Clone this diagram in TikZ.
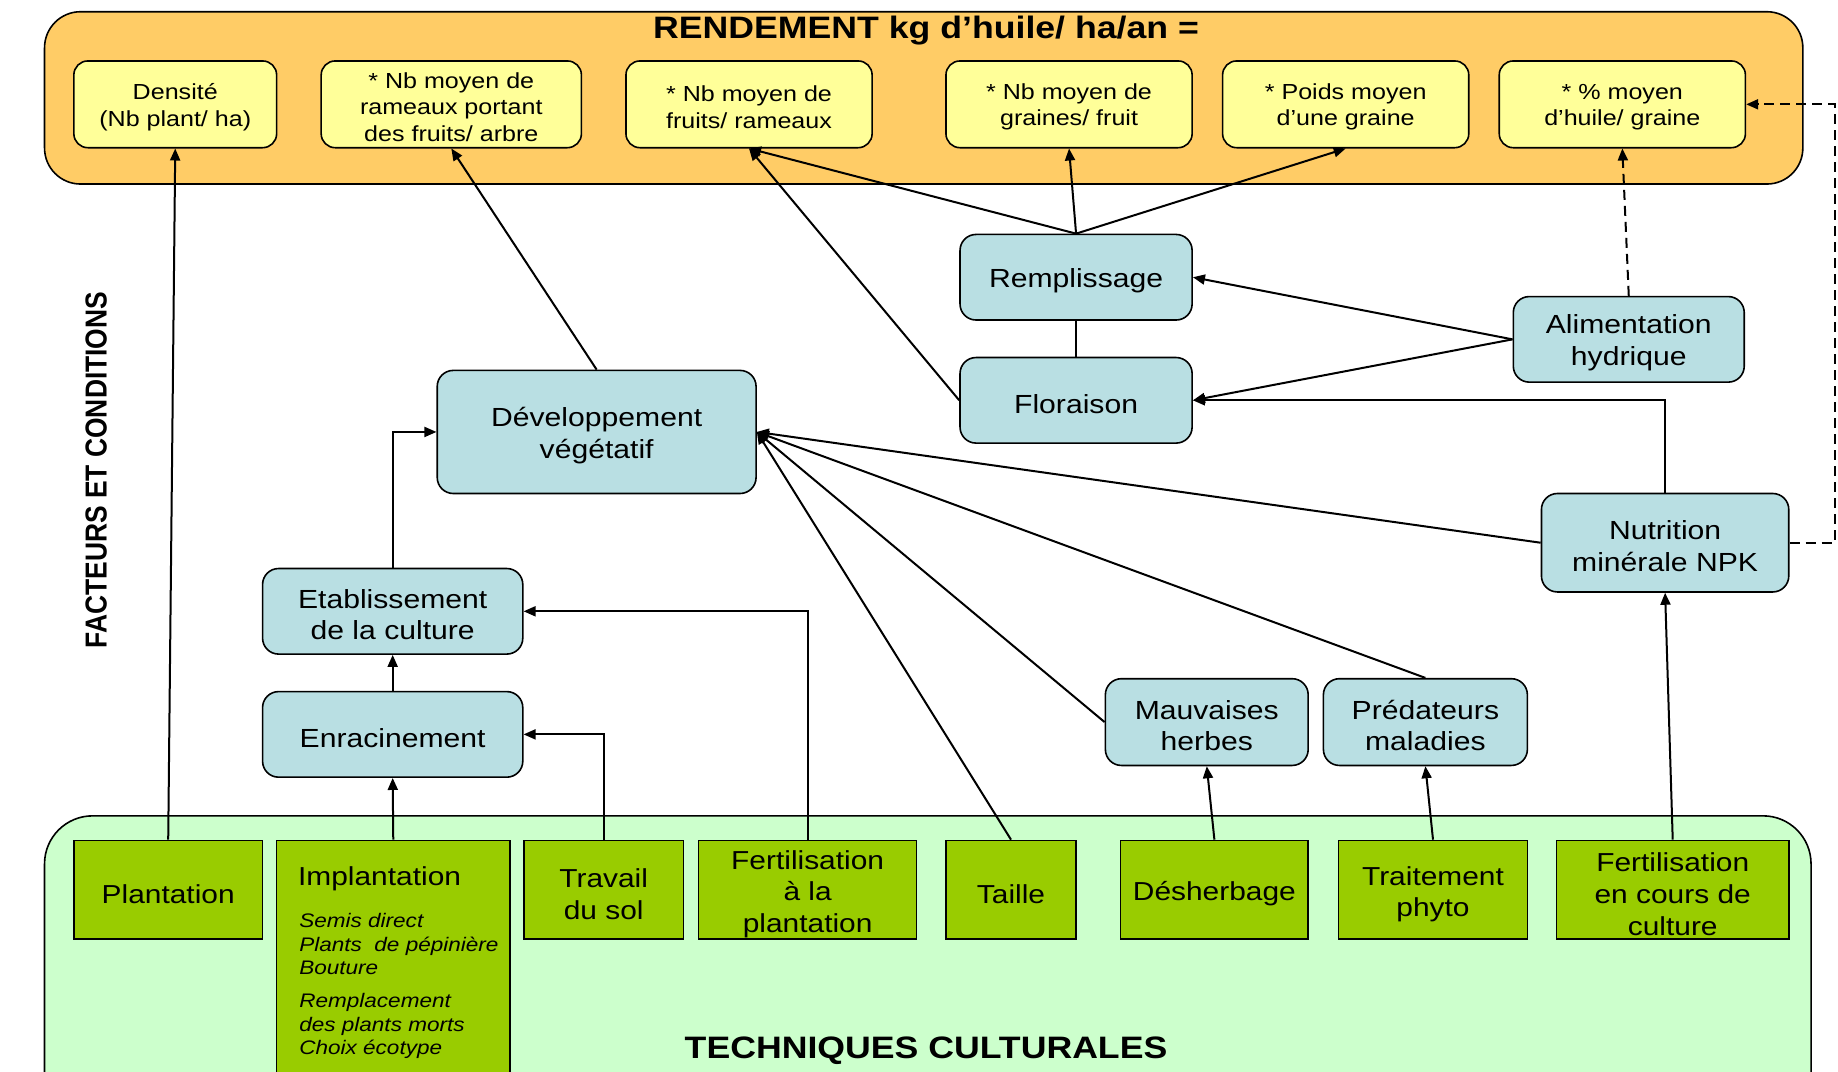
\documentclass[tikz,border=0pt]{standalone}
\usepackage{graphicx}
\usepackage{fontspec}
\setmainfont{Liberation Sans}[FakeStretch=1.15]
\newfontfamily\plainsans{Liberation Sans}
\usetikzlibrary{arrows.meta}
\definecolor{panelorange}{HTML}{FFCC66}
\definecolor{boxyellow}{HTML}{FFFF99}
\definecolor{boxblue}{HTML}{B9DFE3}
\definecolor{panelgreen}{HTML}{CCFFCC}
\definecolor{boxgreen}{HTML}{99CC00}
\tikzset{
  ybox/.style={draw=black, line width=0.8pt, fill=boxyellow, rounded corners=7pt, inner sep=0pt},
  ytext/.style={inner sep=0pt, align=center, yshift=-1.4pt, font=\fontsize{10.9}{13.2}\selectfont},
  bbox/.style={draw=black, line width=0.8pt, fill=boxblue, rounded corners=8pt, inner sep=0pt},
  btext/.style={inner sep=0pt, align=center, yshift=-1.7pt, font=\fontsize{13.1}{15.8}\selectfont},
  gbox/.style={draw=black, line width=0.8pt, fill=boxgreen, inner sep=0pt},
  gtext/.style={inner sep=0pt, align=center, yshift=-2.2pt, font=\fontsize{13}{15.8}\selectfont},
  conn/.style={line width=1pt, -{Triangle[length=6pt,width=5pt]}},
  dconn/.style={conn, dash pattern=on 5pt off 3pt},
  link/.style={line width=1pt},
  panel/.style={draw=black, line width=0.8pt},
  headtext/.style={font=\bfseries\fontsize{15.5}{18}\selectfont, inner sep=0pt}
}
% name, kind (y/b/g), x1, y1, x2, y2, text
\newcommand\placebox[7]{%
  \node[#2box, minimum width={(#5-#3)*0.5861pt}, minimum height={(#6-#4)*0.5861pt}] (#1) at ({(#3+#5)/2},{(#4+#6)/2}) {};
  \node[#2text] (#1-t) at (#1.center) {#7};}
\begin{document}
\begin{tikzpicture}[x=0.5861pt, y=-0.5861pt]
\useasboundingbox (0,0) rectangle (1568,914);
\clip (0,0) rectangle (1568,914);
% panels
\draw[panel, fill=panelorange, rounded corners=18pt] (38,10) rectangle (1538,157);
\draw[panel, fill=panelgreen, rounded corners=24pt] (38,696) rectangle (1545,990);
\node[headtext] (title) at (790,26) {RENDEMENT kg d’huile/ ha/an =};
\node[headtext] (tech) at (790,896) {TECHNIQUES CULTURALES};
\node[rotate=90, inner sep=0pt, font=\plainsans\bfseries\fontsize{13.2}{15}\selectfont] (fact) at (82,401) {\scalebox{1}[1.15]{FACTEURS ET CONDITIONS}};
% yield components
\placebox{dens}{y}{63}{52}{236}{126}{Densité\\(Nb plant/ ha)}
\placebox{ram}{y}{274}{52}{496}{126}{* Nb moyen de\\rameaux portant\\des fruits/ arbre}
\placebox{fru}{y}{534}{52}{744}{126}{* Nb moyen de\\fruits/ rameaux}
\placebox{gra}{y}{807}{52}{1017}{126}{* Nb moyen de\\graines/ fruit}
\placebox{poi}{y}{1043}{52}{1253}{126}{* Poids moyen\\d’une graine}
\placebox{hui}{y}{1279}{52}{1489}{126}{* \% moyen\\d’huile/ graine}
% factors
\placebox{remp}{b}{819}{200}{1017}{273}{Remplissage}
\placebox{flor}{b}{819}{305}{1017}{378}{Floraison}
\placebox{alim}{b}{1291}{253}{1488}{326}{Alimentation\\hydrique}
\placebox{dev}{b}{373}{316}{645}{421}{Développement\\végétatif}
\placebox{nutr}{b}{1315}{421}{1526}{505}{Nutrition\\minérale NPK}
\placebox{etab}{b}{224}{485}{446}{558}{Etablissement\\de la culture}
\placebox{enr}{b}{224}{590}{446}{663}{Enracinement}
\placebox{mauv}{b}{943}{579}{1116}{653}{Mauvaises\\herbes}
\placebox{pred}{b}{1129}{579}{1303}{653}{Prédateurs\\maladies}
% techniques
\placebox{plan}{g}{63}{717}{224}{801}{Plantation}
\node[gbox, minimum width={199*0.5861pt}, minimum height={273*0.5861pt}] (impl) at (335.5,853.5) {};
\node[anchor=west, inner sep=0pt, font=\fontsize{13}{15.8}\selectfont] (impltitle) at (254,750) {Implantation};
\node[anchor=north west, inner sep=0pt, align=left, font=\itshape\fontsize{9.8}{11.7}\selectfont] (impltxt) at (255,779) {Semis direct\\Plants~ de pépinière\\Bouture\\[5pt]Remplacement\\des plants morts\\Choix écotype};
\placebox{trav}{g}{447}{717}{583}{801}{Travail\\du sol}
\placebox{fplt}{g}{596}{717}{782}{801}{Fertilisation\\à la\\plantation}
\placebox{tail}{g}{807}{717}{918}{801}{Taille}
\placebox{desh}{g}{956}{717}{1116}{801}{Désherbage}
\placebox{trai}{g}{1142}{717}{1303}{801}{Traitement\\phyto}
\placebox{fcou}{g}{1328}{717}{1526}{801}{Fertilisation\\en cours de\\culture}
\coordinate (dright) at (1565,463);
% connectors
\draw[conn] (plan.north) -- (dens.south);
\draw[conn] (impl.north) -- (enr.south);
\draw[conn] (enr.north) -- (etab.south);
\draw[conn] (etab.north) |- (dev.west);
\draw[conn] (trav.north) |- (enr.east);
\draw[conn] (fplt.north) |- (etab.east);
\draw[conn] (tail.north) -- (dev.east);
\draw[conn] (mauv.west) -- (dev.east);
\draw[conn] (pred.north) -- (dev.east);
\draw[conn] (nutr.west) -- (dev.east);
\draw[conn] (desh.north) -- (mauv.south);
\draw[conn] (trai.north) -- (pred.south);
\draw[conn] (fcou.north) -- (nutr.south);
\draw[conn] (nutr.north) |- (flor.east);
\draw[dconn] (nutr.east) -- (dright) |- (hui.east);
\draw[conn] (alim.west) -- (remp.east);
\draw[conn] (alim.west) -- (flor.east);
\draw[dconn] (alim.north) -- (hui.south);
\draw[conn] (remp.north) -- (fru.south);
\draw[conn] (remp.north) -- (gra.south);
\draw[conn] (remp.north) -- (poi.south);
\draw[link] (remp.south) -- (flor.north);
\draw[conn] (flor.west) -- (fru.south);
\draw[conn] (dev.north) -- (ram.south);
\end{tikzpicture}
\end{document}
